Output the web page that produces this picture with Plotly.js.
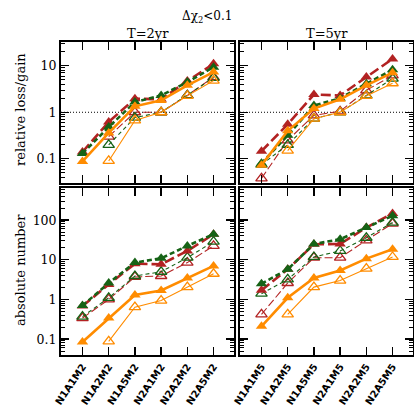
<!DOCTYPE html>
<html>
<head>
<meta charset="utf-8">
<script src="https://cdn.plot.ly/plotly-3.0.1.min.js"></script>
<style>html,body{margin:0;padding:0;background:#fff;}#chart{width:414px;height:405px;}</style>
</head>
<body>
<div id="chart"></div>
<script>
// Categories
const cats2 = ["N1A1M2","N1A2M2","N1A5M2","N2A1M2","N2A2M2","N2A5M2"];
const cats5 = ["N1A1M5","N1A2M5","N1A5M5","N2A1M5","N2A2M5","N2A5M5"];

// Top-left: relative loss/gain, T=2yr
const relT2_redFill   = [0.14, 0.62, 1.96, 1.90, 4.7, 11.0];
const relT2_greenFill = [0.13, 0.48, 1.66, 2.3, 4.45, 9.3];
const relT2_orgFill   = [0.088, 0.36, 1.34, 1.8, 3.8, 7.3];
const relT2_redOpen   = [null, 0.30, 1.0, 1.0, 2.3, 5.7];
const relT2_greenOpen = [null, 0.20, 0.77, 1.0, 2.3, 5.5];
const relT2_orgOpen   = [null, 0.09, 0.67, 1.0, 2.25, 4.8];

// Top-right: relative loss/gain, T=5yr
const relT5_redFill   = [0.146, 0.55, 2.4, 2.3, 5.7, 14.0];
const relT5_greenFill = [0.08, 0.32, 1.4, 2.0, 4.1, 8.2];
const relT5_orgFill   = [0.073, 0.40, 1.2, 1.9, 3.8, 7.1];
const relT5_redOpen   = [0.038, 0.25, 0.86, 1.05, 2.96, 6.2];
const relT5_greenOpen = [0.075, 0.20, 0.73, 1.0, 2.3, 5.3];
const relT5_orgOpen   = [null, 0.15, 0.73, 1.0, 2.25, 4.2];

// Bottom-left: absolute number, T=2yr
const absT2_redFill   = [0.68, 2.4, 7.95, 7.7, 16.7, 44];
const absT2_greenFill = [0.70, 2.6, 8.5, 10.9, 22.4, 44];
const absT2_orgFill   = [0.085, 0.34, 1.29, 1.69, 3.5, 7.0];
const absT2_redOpen   = [0.34, 1.0, 3.7, 3.9, 8.5, 22.4];
const absT2_greenOpen = [0.37, 1.1, 3.9, 5.0, 11.3, 28.7];
const absT2_orgOpen   = [null, 0.088, 0.64, 0.94, 2.05, 4.45];

// Bottom-right: absolute number, T=5yr
const absT5_redFill   = [1.7, 5.75, 24.7, 25, 65, 147];
const absT5_greenFill = [2.5, 5.75, 25, 33, 65, 129];
const absT5_orgFill   = [0.21, 1.1, 3.5, 5.4, 10.7, 18.5];
const absT5_redOpen   = [0.42, 2.6, 11.3, 11.3, 31, 82];
const absT5_greenOpen = [1.4, 3.2, 11.8, 16.7, 36, 87];
const absT5_orgOpen   = [null, 0.42, 2.05, 3.0, 6.0, 11.8];

const RED = "#b22222", GREEN = "#166316", ORG = "#ff8c00";

function series(x, y, xa, ya, color, filled, dash) {
  return {
    x: x, y: y, xaxis: xa, yaxis: ya, type: "scatter", mode: "lines+markers",
    connectgaps: false, showlegend: false, cliponaxis: true,
    line: {color: color, width: filled ? 2.6 : 1.1, dash: dash},
    marker: filled
      ? {symbol: "triangle-up", size: 10, color: color, line: {width: 0}}
      : {symbol: "triangle-up-open", size: 10, color: color, line: {width: 1.3, color: color}}
  };
}

function panel(x, xa, ya, rf, gf, of, ro, go, oo) {
  return [
    series(x, ro, xa, ya, RED, false, "8px,3px"),
    series(x, go, xa, ya, GREEN, false, "4px,3px"),
    series(x, oo, xa, ya, ORG, false, "solid"),
    series(x, rf, xa, ya, RED, true, "10px,4px"),
    series(x, gf, xa, ya, GREEN, true, "5px,3px"),
    series(x, of, xa, ya, ORG, true, "solid")
  ];
}

const data = [].concat(
  panel(cats2, "x", "y", relT2_redFill, relT2_greenFill, relT2_orgFill, relT2_redOpen, relT2_greenOpen, relT2_orgOpen),
  panel(cats5, "x2", "y2", relT5_redFill, relT5_greenFill, relT5_orgFill, relT5_redOpen, relT5_greenOpen, relT5_orgOpen),
  panel(cats2, "x3", "y3", absT2_redFill, absT2_greenFill, absT2_orgFill, absT2_redOpen, absT2_greenOpen, absT2_orgOpen),
  panel(cats5, "x4", "y4", absT5_redFill, absT5_greenFill, absT5_orgFill, absT5_redOpen, absT5_greenOpen, absT5_orgOpen)
);

const W = 414, H = 405;
const ML = 60, MR = 1, MT = 40, MB = 50;
const PW = W - ML - MR, PH = H - MT - MB;
function dx(a, b) { return [(a - ML) / PW, (b - ML) / PW]; }
function dy(top, bot) { return [(H - MB - bot) / PH, (H - MB - top) / PH]; }
const xL = dx(61, 234), xR = dx(240, 413);
const yT = dy(42, 183), yB = dy(188, 355);

const serif = "DejaVu Serif";
function xax(domain, anchor, showLabels, cats) {
  return {
    domain: domain, anchor: anchor, type: "category", range: [-0.82, 5.78],
    categoryorder: "array", categoryarray: cats,
    showline: true, linewidth: 2, linecolor: "black", mirror: "ticks",
    ticks: "inside", ticklen: 8, tickwidth: 1.3, tickcolor: "black",
    showgrid: false, zeroline: false, showticklabels: showLabels,
    tickangle: -56, tickfont: {family: "DejaVu Sans", size: 10, color: "black", weight: "bold"},
    fixedrange: true, automargin: false
  };
}
function yax(domain, anchor, range, vals, text, showLabels) {
  return {
    domain: domain, anchor: anchor, type: "log", range: range,
    showline: true, linewidth: 2, linecolor: "black", mirror: "ticks",
    ticks: "inside", ticklen: 8, tickwidth: 1.3, tickcolor: "black",
    tickvals: vals, ticktext: text, showticklabels: showLabels,
    tickfont: {family: serif, size: 12.5, color: "black"},
    minor: {ticks: "inside", ticklen: 4, tickwidth: 1, tickcolor: "black", dtick: "D1", showgrid: false},
    showgrid: false, zeroline: false, fixedrange: true, automargin: false
  };
}

const topVals = [0.1, 1, 10], topText = ["0.1", "1", "10"];
const botVals = [0.1, 1, 10, 100], botText = ["0.1", "1", "10", "100"];

const layout = {
  width: W, height: H,
  margin: {l: ML, r: MR, t: MT, b: MB},
  paper_bgcolor: "white", plot_bgcolor: "white",
  showlegend: false,
  xaxis: xax(xL, "y", false, cats2),
  xaxis2: xax(xR, "y2", false, cats5),
  xaxis3: xax(xL, "y3", true, cats2),
  xaxis4: xax(xR, "y4", true, cats5),
  yaxis: yax(yT, "x", [-1.52, 1.51], topVals, topText, true),
  yaxis2: yax(yT, "x2", [-1.52, 1.51], topVals, topText, false),
  yaxis3: yax(yB, "x3", [-1.40, 2.81], botVals, botText, true),
  yaxis4: yax(yB, "x4", [-1.40, 2.81], botVals, botText, false),
  shapes: [
    {type: "line", xref: "x domain", x0: 0, x1: 1, yref: "y", y0: 1, y1: 1, line: {color: "black", width: 1, dash: "1px,2px"}, layer: "below"},
    {type: "line", xref: "x2 domain", x0: 0, x1: 1, yref: "y2", y0: 1, y1: 1, line: {color: "black", width: 1, dash: "1px,2px"}, layer: "below"}
  ],
  annotations: [
    {text: "Δχ<sub>2</sub>&lt;0.1", xref: "paper", yref: "paper", x: (207 - ML) / PW, y: (H - MB - 17) / PH, xanchor: "center", yanchor: "middle", showarrow: false, font: {family: serif, size: 12, color: "black"}},
    {text: "T=2yr", xref: "paper", yref: "paper", x: (xL[0]+xL[1])/2, y: (H - MB - 33) / PH, xanchor: "center", yanchor: "middle", showarrow: false, font: {family: serif, size: 13, color: "black"}},
    {text: "T=5yr", xref: "paper", yref: "paper", x: (xR[0]+xR[1])/2, y: (H - MB - 33) / PH, xanchor: "center", yanchor: "middle", showarrow: false, font: {family: serif, size: 13, color: "black"}},
    {text: "relative loss/gain", xref: "paper", yref: "paper", x: (20 - ML) / PW, y: (H - MB - 110) / PH, xanchor: "center", yanchor: "middle", textangle: -90, showarrow: false, font: {family: serif, size: 13, color: "black"}},
    {text: "absolute number", xref: "paper", yref: "paper", x: (20 - ML) / PW, y: (H - MB - 270) / PH, xanchor: "center", yanchor: "middle", textangle: -90, showarrow: false, font: {family: serif, size: 13, color: "black"}}
  ]
};

Plotly.newPlot("chart", data, layout, {staticPlot: true, displayModeBar: false});
</script>
</body>
</html>
